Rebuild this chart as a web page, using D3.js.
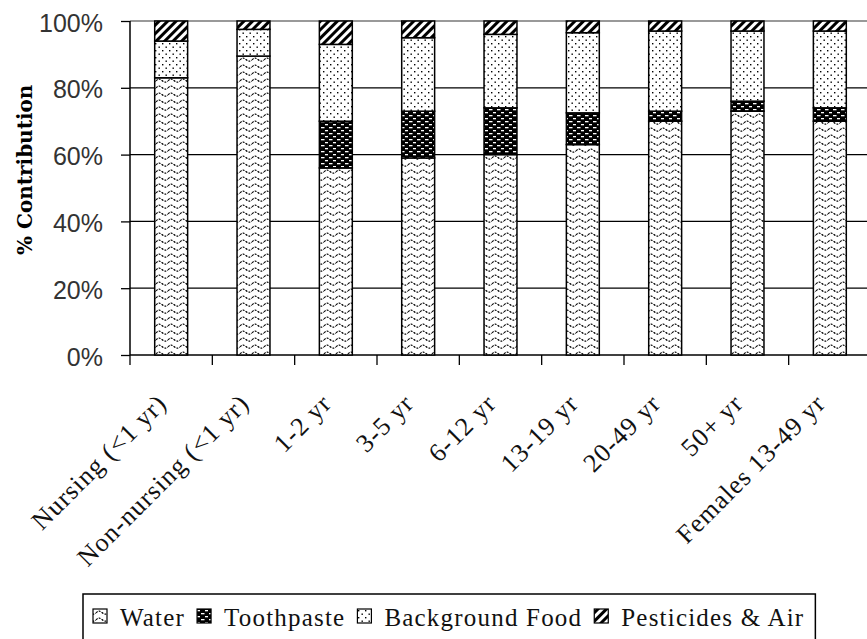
<!DOCTYPE html>
<html><head><meta charset="utf-8">
<script src="https://cdn.jsdelivr.net/npm/d3@7"></script>
<style>body{margin:0;background:#fff}svg{display:block}</style>
</head><body><svg id="c" width="867" height="639"></svg>
<script>
const categories = ["Nursing (<1 yr)","Non-nursing (<1 yr)","1-2 yr","3-5 yr","6-12 yr","13-19 yr","20-49 yr","50+ yr","Females 13-49 yr"];
const seriesNames = ["Water","Toothpaste","Background Food","Pesticides & Air"];
const water      = [83, 89.5, 56, 59, 60, 63, 70, 73, 70];
const toothpaste = [0, 0, 14, 14, 14, 9.5, 3, 3, 4];
const background = [11, 8, 23, 22, 22, 24, 24, 21, 23];
const pesticides = [6, 2.5, 7, 5, 4, 3.5, 3, 3, 3];
const yTicks = [0, 20, 40, 60, 80, 100];

const SERIF = "Liberation Serif";
const svg = d3.select("#c");
const M = {left:130, top:21, bottom:355, right:871};

// patterns
const defs = svg.append("defs");
let p = defs.append("pattern").attr("id","pWater").attr("patternUnits","userSpaceOnUse").attr("width",12).attr("height",7);
p.append("rect").attr("width",12).attr("height",7).attr("fill","#fff");
p.append("path").attr("d","M0,4 Q3,0.5 6,3.5 T12,4").attr("fill","none").attr("stroke","#000").attr("stroke-width",1.1).attr("stroke-dasharray","2,1.2");
p = defs.append("pattern").attr("id","pTooth").attr("patternUnits","userSpaceOnUse").attr("width",8).attr("height",6);
p.append("rect").attr("width",8).attr("height",6).attr("fill","#000");
p.append("rect").attr("x",1).attr("y",1).attr("width",3.5).attr("height",1.3).attr("fill","#fff");
p.append("rect").attr("x",5).attr("y",4).attr("width",3.5).attr("height",1.3).attr("fill","#fff");
p = defs.append("pattern").attr("id","pBg").attr("patternUnits","userSpaceOnUse").attr("width",7).attr("height",7);
p.append("rect").attr("width",7).attr("height",7).attr("fill","#fff");
p.append("rect").attr("x",1).attr("y",1).attr("width",1.4).attr("height",1.4).attr("fill","#000");
p.append("rect").attr("x",4.5).attr("y",4.5).attr("width",1.4).attr("height",1.4).attr("fill","#000");
p = defs.append("pattern").attr("id","pPest").attr("patternUnits","userSpaceOnUse").attr("width",6).attr("height",6).attr("patternTransform","rotate(45)");
p.append("rect").attr("width",6).attr("height",6).attr("fill","#fff");
p.append("rect").attr("width",3).attr("height",6).attr("fill","#000");
const fills = ["url(#pWater)","url(#pTooth)","url(#pBg)","url(#pPest)"];

const x = d3.scaleBand().domain(categories).range([M.left, M.right]).paddingInner(0.6).paddingOuter(0.3);
const y = d3.scaleLinear().domain([0,100]).range([M.bottom, M.top]);

// gridlines
svg.append("g").selectAll("line").data(yTicks.filter(t=>t>0)).join("line")
  .attr("x1",M.left).attr("x2",867).attr("y1",d=>y(d)).attr("y2",d=>y(d))
  .attr("stroke",d=>d===100?"#777":"#000").attr("stroke-width",1.3);

// y axis
const ya = svg.append("g").attr("transform",`translate(${M.left},0)`)
  .call(d3.axisLeft(y).tickValues(yTicks).tickFormat(d=>d+"%").tickSize(9).tickPadding(18));
ya.select(".domain").attr("stroke","#000").attr("stroke-width",1.5).attr("d",`M-0,${M.top}V${M.bottom}`);
ya.selectAll(".tick line").attr("stroke","#000").attr("stroke-width",1.3);
ya.selectAll("text").attr("font-family","Liberation Sans").attr("font-size",25).attr("fill","#333").attr("y",2);

// x axis
const xa = svg.append("g").attr("transform",`translate(0,${M.bottom})`);
xa.append("line").attr("x1",M.left).attr("x2",867).attr("stroke","#000").attr("stroke-width",1.5);
const step = x.step();
xa.selectAll("line.t").data(d3.range(categories.length+1)).join("line").attr("class","t")
  .attr("x1",i=>M.left+i*step).attr("x2",i=>M.left+i*step).attr("y1",0).attr("y2",10)
  .attr("stroke","#000").attr("stroke-width",1.3);
xa.selectAll("text").data(categories).join("text")
  .attr("transform",d=>`translate(${x(d)+x.bandwidth()/2-3},${50}) rotate(-45)`)
  .attr("text-anchor","end").attr("font-family",SERIF).attr("font-size",26)
  .attr("letter-spacing","1px").attr("fill","#111").text(d=>d);

// stacked bars
const table = categories.map((c,i)=>({cat:c,Water:water[i],Toothpaste:toothpaste[i],"Background Food":background[i],"Pesticides & Air":pesticides[i]}));
const stacked = d3.stack().keys(seriesNames)(table);
svg.append("g").selectAll("g").data(stacked).join("g").attr("fill",(d,i)=>fills[i])
  .selectAll("rect").data(d=>d).join("rect")
  .attr("x",d=>x(d.data.cat)).attr("width",x.bandwidth())
  .attr("y",d=>y(d[1])).attr("height",d=>y(d[0])-y(d[1]))
  .attr("stroke","#000").attr("stroke-width",1.5);

// y title
svg.append("text").attr("transform","translate(32,255) rotate(-90)")
  .attr("font-family","DejaVu Serif").attr("font-weight","bold").attr("font-size",20)
  .attr("fill","#000").text("% Contribution");

// legend
const lg = svg.append("g");
let lx = 93;
seriesNames.forEach((n,i)=>{
  const g = lg.append("g");
  g.append("rect").attr("x",lx).attr("y",609).attr("width",14).attr("height",14).attr("fill",fills[i]).attr("stroke","#000").attr("stroke-width",1.2);
  const t = g.append("text").attr("x",lx+27).attr("y",626).attr("font-family",SERIF).attr("font-size",25)
    .attr("letter-spacing","1.2px").attr("fill","#111").text(n);
  lx += 27 + t.node().getComputedTextLength() + 12;
});
lg.insert("rect",":first-child").attr("x",83).attr("y",594).attr("width",Math.max(lx-83-1,0)).attr("height",60)
  .attr("fill","#fff").attr("stroke","#000").attr("stroke-width",1.5);
</script></body></html>
